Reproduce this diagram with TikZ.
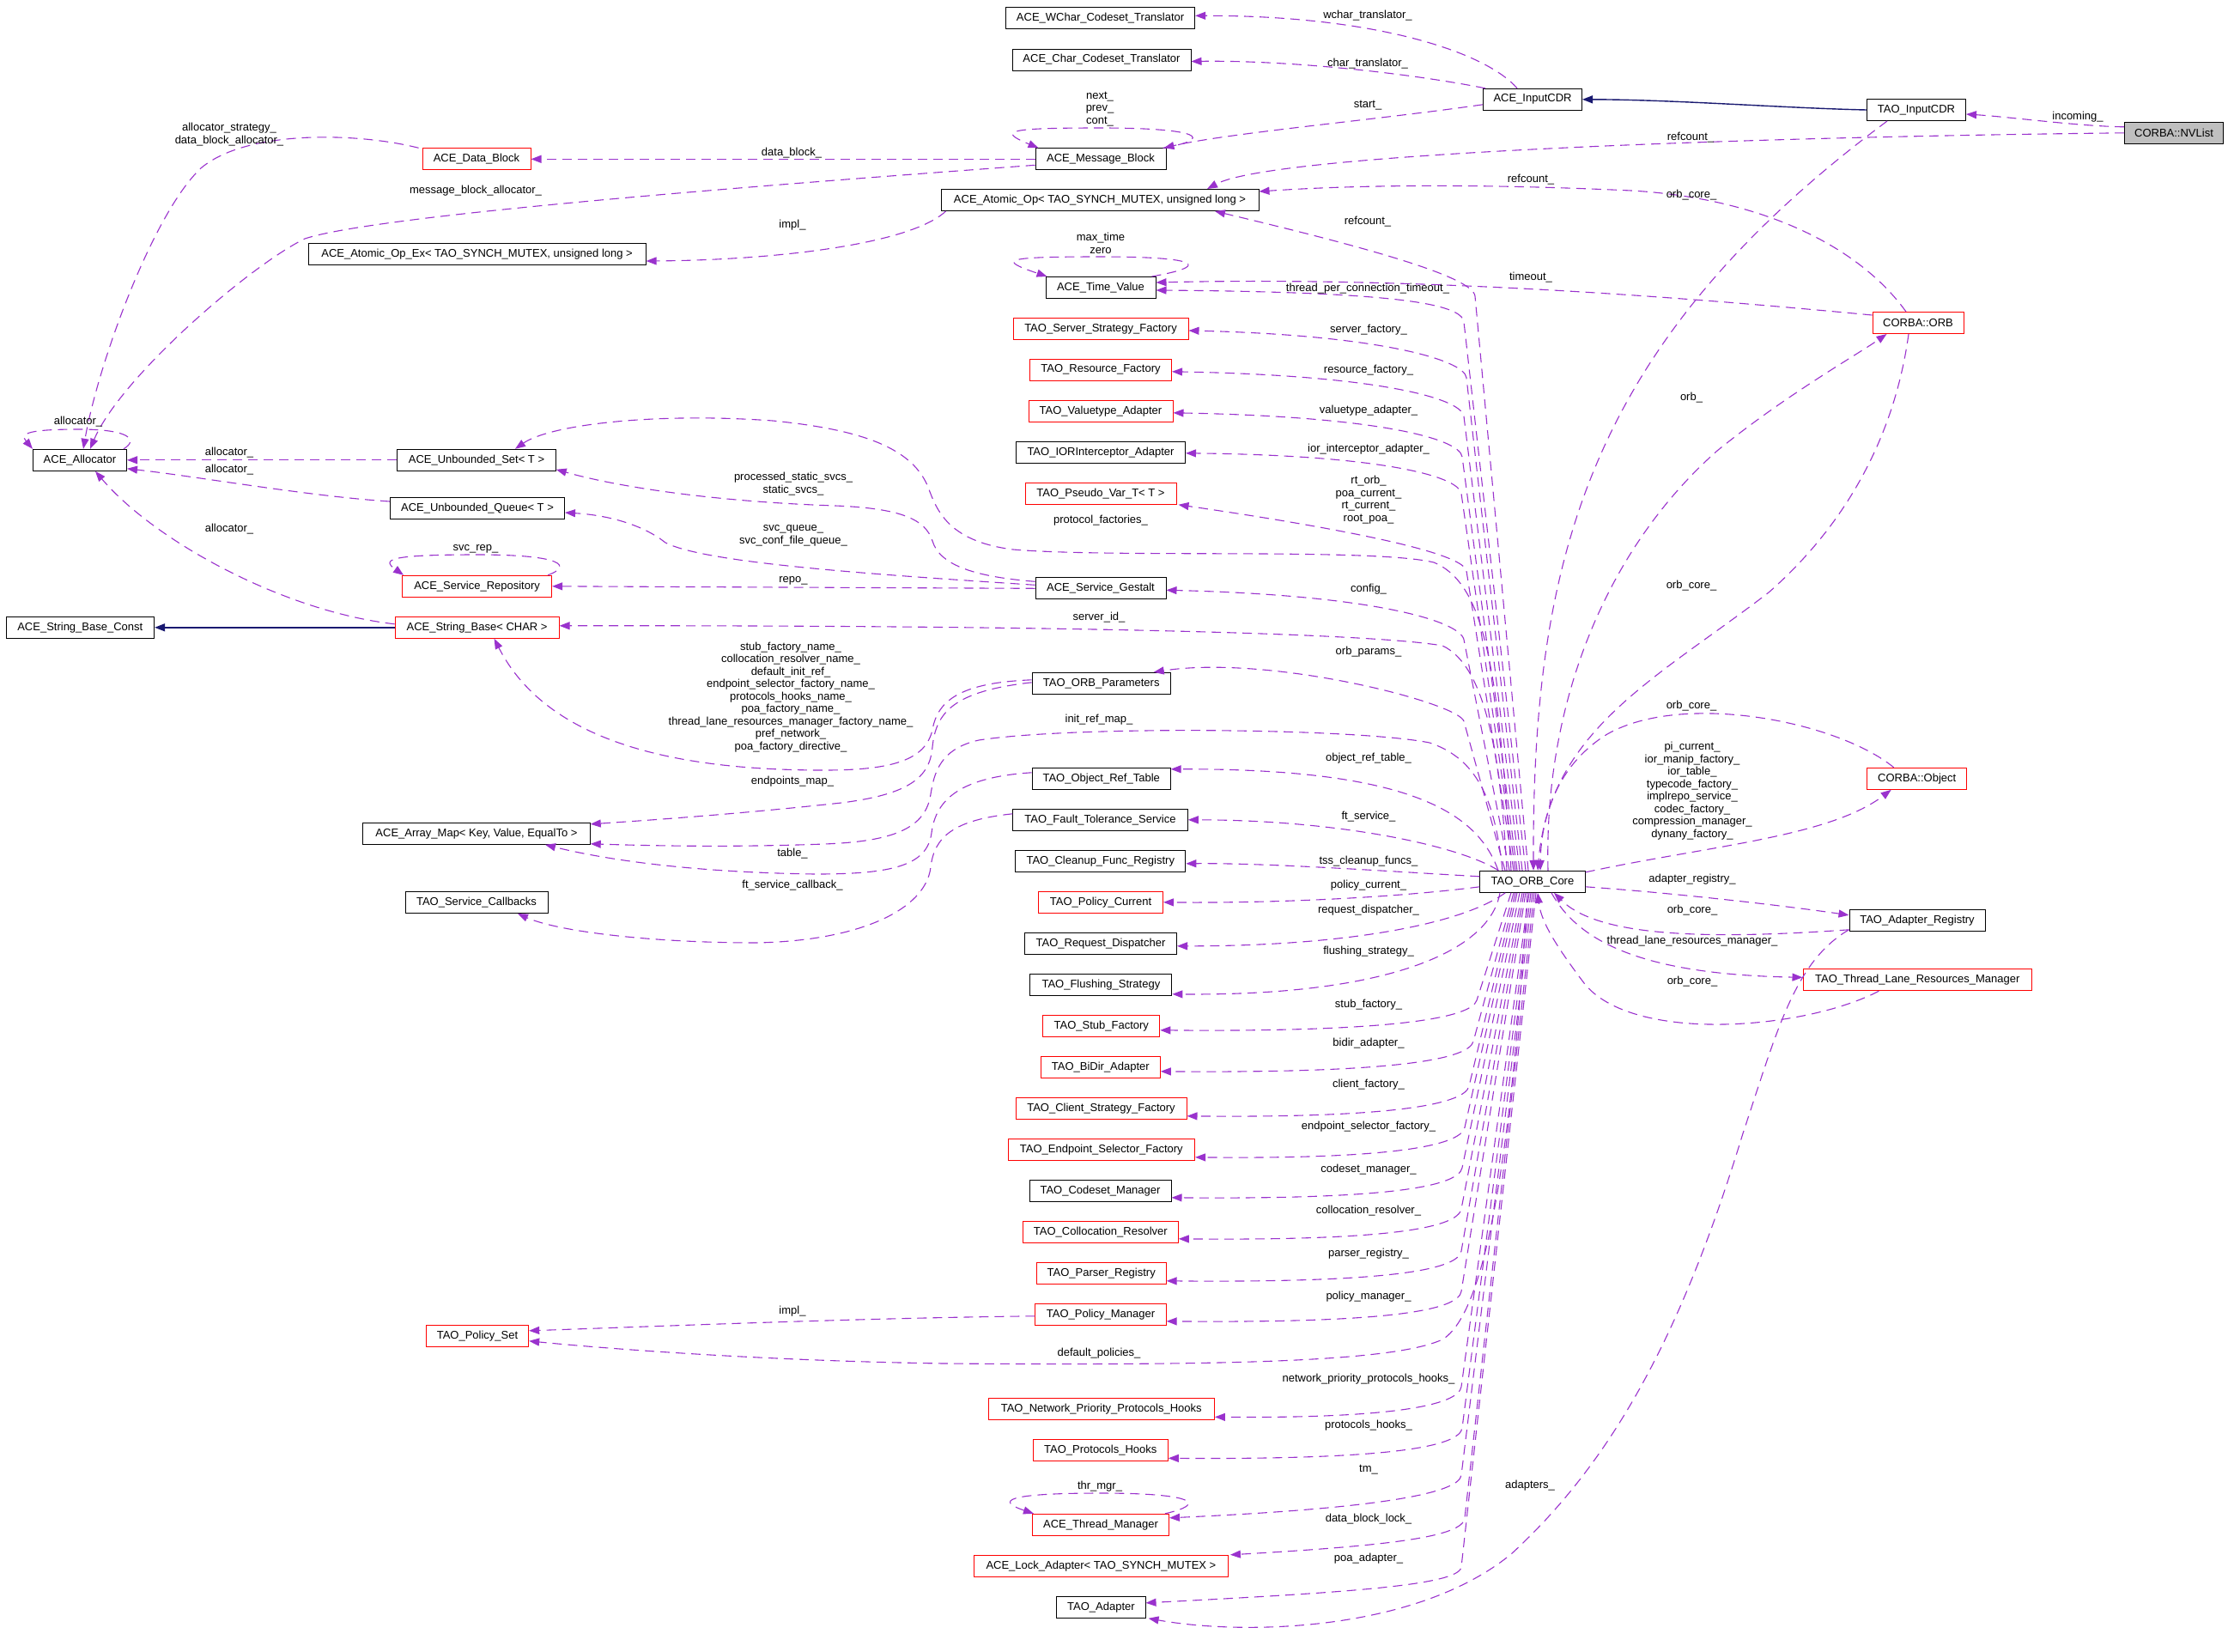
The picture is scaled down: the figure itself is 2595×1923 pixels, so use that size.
\documentclass[tikz,border=0pt]{standalone}
\usepackage{fontspec}
\setmainfont{Liberation Sans}
\usetikzlibrary{arrows.meta,calc}
\definecolor{depcol}{HTML}{9A32CD}
\definecolor{inhcol}{HTML}{191970}
\definecolor{boxred}{HTML}{FF0000}
\definecolor{nvfill}{HTML}{BFBFBF}
\newcommand\fs{\fontsize{13}{14.5}\selectfont}
\tikzset{
 cls/.style={draw=black, line width=1pt, minimum height=25pt, inner xsep=2pt, inner ysep=0pt, font=\fs, fill=white},
 rcls/.style={cls, draw=boxred},
 dep/.style={draw=depcol, line width=1.1pt, dash pattern=on 11pt off 7pt, -{Triangle[length=12pt,width=9pt]}},
 inh/.style={draw=inhcol, line width=1.4pt, -{Triangle[length=12pt,width=9pt]}},
 lbl/.style={font=\fs, inner sep=0pt, align=center},
}
\newcommand\coreup[4]{\path ($(core.north)+(#1,0)$) coordinate (cs);
 \draw[dep] (cs) -- (#2) .. controls ($(#2)!-22pt!(cs)$) and (#3) .. (#4);}
\newcommand\coredown[4]{\path ($(core.south)+(#1,0)$) coordinate (cs);
 \draw[dep] (cs) -- (#2) .. controls ($(#2)!-22pt!(cs)$) and (#3) .. (#4);}
\begin{document}
\begin{tikzpicture}[x=1pt,y=-1pt]
\useasboundingbox (0,0) rectangle (2595,1923);
% ---------------- nodes
\node[cls, minimum width=220pt] (wchar) at (1281.6,21.3) {ACE\_WChar\_Codeset\_Translator};
\node[cls, minimum width=208pt] (charct) at (1283,69.5) {ACE\_Char\_Codeset\_Translator};
\node[cls, minimum width=115pt] (inputcdr) at (1785,115.8) {ACE\_InputCDR};
\node[cls, minimum width=115pt] (taoinput) at (2232,128) {TAO\_InputCDR};
\node[cls, fill=nvfill, minimum width=115pt] (nvlist) at (2532,154.8) {CORBA::NVList};
\node[cls, minimum width=152pt] (msgblk) at (1282,185.3) {ACE\_Message\_Block};
\node[rcls, minimum width=126pt] (datablk) at (555,185.3) {ACE\_Data\_Block};
\node[cls, minimum width=370pt] (atomic) at (1281,233) {ACE\_Atomic\_Op< TAO\_SYNCH\_MUTEX, unsigned long >};
\node[cls, minimum width=393pt] (atomicex) at (555.6,296) {ACE\_Atomic\_Op\_Ex< TAO\_SYNCH\_MUTEX, unsigned long >};
\node[cls, minimum width=128pt] (timeval) at (1282,335) {ACE\_Time\_Value};
\node[rcls, minimum width=106pt] (orb) at (2234,376) {CORBA::ORB};
\node[rcls, minimum width=204pt] (serverf) at (1282,383) {TAO\_Server\_Strategy\_Factory};
\node[rcls, minimum width=165pt] (resf) at (1282,430.8) {TAO\_Resource\_Factory};
\node[rcls, minimum width=168pt] (valuet) at (1282,478.8) {TAO\_Valuetype\_Adapter};
\node[cls, minimum width=197pt] (ior) at (1282,526.8) {TAO\_IORInterceptor\_Adapter};
\node[rcls, minimum width=176pt] (pseudo) at (1282,574.8) {TAO\_Pseudo\_Var\_T< T >};
\node[cls, minimum width=109pt] (alloc) at (93,535.8) {ACE\_Allocator};
\node[cls, minimum width=184.5pt] (uset) at (555,535.8) {ACE\_Unbounded\_Set< T >};
\node[cls, minimum width=203pt] (uqueue) at (556,592) {ACE\_Unbounded\_Queue< T >};
\node[cls, minimum width=152pt] (gestalt) at (1282,685.3) {ACE\_Service\_Gestalt};
\node[rcls, minimum width=174pt] (svcrepo) at (555.6,682.8) {ACE\_Service\_Repository};
\node[cls, minimum width=172.6pt] (strconst) at (93.3,730.8) {ACE\_String\_Base\_Const};
\node[rcls, minimum width=191pt] (strbase) at (555.6,730.8) {ACE\_String\_Base< CHAR >};
\node[cls, minimum width=161pt] (orbparams) at (1282.7,795.8) {TAO\_ORB\_Parameters};
\node[cls, minimum width=264.5pt] (arraymap) at (555,970.8) {ACE\_Array\_Map< Key, Value, EqualTo >};
\node[cls, minimum width=161pt] (objref) at (1282.7,906.8) {TAO\_Object\_Ref\_Table};
\node[cls, minimum width=203.5pt] (ft) at (1281.5,954.8) {TAO\_Fault\_Tolerance\_Service};
\node[cls, minimum width=198pt] (cleanup) at (1281.8,1002.8) {TAO\_Cleanup\_Func\_Registry};
\node[rcls, minimum width=145pt] (polcur) at (1282,1050.8) {TAO\_Policy\_Current};
\node[cls, minimum width=177pt] (reqdisp) at (1282,1098.8) {TAO\_Request\_Dispatcher};
\node[cls, minimum width=165pt] (flush) at (1282.4,1146.8) {TAO\_Flushing\_Strategy};
\node[cls, minimum width=166pt] (svccb) at (555,1051) {TAO\_Service\_Callbacks};
\node[cls, minimum width=122.5pt] (core) at (1785,1026.8) {TAO\_ORB\_Core};
\node[rcls, minimum width=115.5pt] (corbaobj) at (2232.7,906.8) {CORBA::Object};
\node[cls, minimum width=158pt] (adreg) at (2233,1071.8) {TAO\_Adapter\_Registry};
\node[rcls, minimum width=266.6pt] (tlrm) at (2233.3,1141.3) {TAO\_Thread\_Lane\_Resources\_Manager};
\node[rcls, minimum width=136pt] (stub) at (1282.8,1194.8) {TAO\_Stub\_Factory};
\node[rcls, minimum width=139pt] (bidir) at (1281.8,1242.8) {TAO\_BiDir\_Adapter};
\node[rcls, minimum width=199pt] (clientf) at (1282.5,1290.8) {TAO\_Client\_Strategy\_Factory};
\node[rcls, minimum width=217.5pt] (endpt) at (1282.8,1338.8) {TAO\_Endpoint\_Selector\_Factory};
\node[cls, minimum width=165pt] (codeset) at (1281.5,1386.8) {TAO\_Codeset\_Manager};
\node[rcls, minimum width=181pt] (colloc) at (1281.8,1434.8) {TAO\_Collocation\_Resolver};
\node[rcls, minimum width=151pt] (parser) at (1282.7,1482.8) {TAO\_Parser\_Registry};
\node[rcls, minimum width=152.4pt] (polman) at (1282,1530.8) {TAO\_Policy\_Manager};
\node[rcls, minimum width=119.3pt] (polset) at (556,1555.8) {TAO\_Policy\_Set};
\node[rcls, minimum width=263.4pt] (nphooks) at (1282.7,1641.3) {TAO\_Network\_Priority\_Protocols\_Hooks};
\node[rcls, minimum width=157pt] (phooks) at (1281.8,1689.3) {TAO\_Protocols\_Hooks};
\node[rcls, minimum width=159pt] (thrmgr) at (1282,1775.8) {ACE\_Thread\_Manager};
\node[rcls, minimum width=296pt] (lockad) at (1282.4,1823.8) {ACE\_Lock\_Adapter< TAO\_SYNCH\_MUTEX >};
\node[cls, minimum width=103.3pt] (adapter) at (1282.4,1871.8) {TAO\_Adapter};
% ---------------- inheritance
\draw[inh] (taoinput.west) .. controls (2080,126) and (1950,116) .. (inputcdr.east);
\draw[inh] (strbase.west) -- (strconst.east);
% ---------------- top area
\draw[dep] ($(nvlist.west)+(0,-7)$) .. controls (2420,147) and (2340,136) .. ($(taoinput.east)+(0,5)$);
\draw[dep] (nvlist.west) .. controls (2000,160) and (1480,180) .. ($(atomic.north)+(125,0)$);
\draw[dep] ($(inputcdr.north)+(-18,0)$) .. controls (1730,60) and (1600,18) .. ($(wchar.east)+(0,-3)$);
\draw[dep] ($(inputcdr.north west)+(3,0)$) .. controls (1640,85) and (1500,70) .. ($(charct.east)+(0,2)$);
\draw[dep] ($(inputcdr.west)+(0,6)$) .. controls (1600,140) and (1430,155) .. ($(msgblk.north east)+(-3,0)$);
\draw[dep] ($(msgblk.north east)+(-4,0)$) .. controls (1415,162) and (1400,149) .. (1282,149) .. controls (1175,149) and (1160,152) .. ($(msgblk.north west)+(4,0)$);
\draw[dep] (msgblk.west) -- (datablk.east);
\draw[dep] ($(msgblk.west)+(0,7)$) .. controls (900,215) and (440,250) .. (355,278) .. controls (290,310) and (140,440) .. ($(alloc.north)+(12,0)$);
\draw[dep] ($(datablk.north west)+(-4,0)$) .. controls (420,155) and (290,150) .. (235,195) .. controls (180,245) and (115,420) .. ($(alloc.north)+(4,0)$);
\draw[dep] ($(atomic.south west)+(6,0)$) .. controls (1060,285) and (900,303) .. ($(atomicex.east)+(0,8)$);
\draw[dep] ($(alloc.north east)+(-4,0)$) .. controls (162,512) and (150,500) .. (93,500) .. controls (36,500) and (22,504) .. (alloc.north west);
\draw[dep] (uset.west) -- (alloc.east);
\draw[dep] ($(uqueue.west)+(0,-8)$) .. controls (360,578) and (230,555) .. ($(alloc.east)+(0,10)$);
\draw[dep] ($(strbase.west)+(0,-4)$) .. controls (330,712) and (180,630) .. ($(alloc.south)+(18,0)$);
\draw[dep] ($(svcrepo.north east)+(-5,0)$) .. controls (665,660) and (660,646) .. (555,646) .. controls (450,646) and (445,652) .. ($(svcrepo.north west)+(2,0)$);
\draw[dep] ($(timeval.north east)+(-5,0)$) .. controls (1410,310) and (1400,299) .. (1282,299) .. controls (1170,299) and (1160,302) .. ($(timeval.north west)+(2,0)$);
\draw[dep] ($(thrmgr.north east)+(-5,0)$) .. controls (1405,1752) and (1395,1739) .. (1282,1739) .. controls (1170,1739) and (1160,1748) .. ($(thrmgr.north west)+(2,0)$);
% gestalt
\draw[dep] ($(gestalt.west)+(0,-8)$) .. controls (1140,672) and (1095,660) .. (1086,630) .. controls (1078,605) and (1050,592) .. (973,589) .. controls (850,585) and (730,570) .. ($(uset.east)+(0,11)$);
\draw[dep] ($(gestalt.west)+(0,-4)$) .. controls (1000,668) and (820,655) .. (775,632) .. controls (750,612) and (710,600) .. ($(uqueue.east)+(0,5)$);
\draw[dep] (gestalt.west) -- (svcrepo.east);
% orb params, objref, ft
\draw[dep] ($(orbparams.west)+(0,-4)$) .. controls (1120,795) and (1092,815) .. (1086,850) .. controls (1078,885) and (1040,897) .. (960,897) .. controls (800,897) and (640,870) .. ($(strbase.south)+(20,0)$);
\draw[dep] ($(orbparams.west)+(0,-1)$) .. controls (1110,805) and (1090,830) .. (1086,870) .. controls (1083,905) and (1060,925) .. (980,935) .. controls (860,948) and (760,955) .. ($(arraymap.east)+(0,-11)$);
\draw[dep] ($(objref.west)+(0,-7)$) .. controls (1120,905) and (1090,930) .. (1085,970) .. controls (1080,1008) and (1040,1018) .. (950,1018) .. controls (800,1016) and (700,1000) .. ($(arraymap.south)+(80,0)$);
\draw[dep] ($(ft.west)+(0,-7)$) .. controls (1110,955) and (1088,975) .. (1084,1010) .. controls (1078,1060) and (1000,1096) .. (880,1098) .. controls (760,1098) and (650,1085) .. ($(svccb.south)+(48,0)$);
\draw[dep] ($(polman.west)+(0,2)$) .. controls (1000,1535) and (760,1545) .. ($(polset.east)+(0,-6)$);
% ---------------- right side
\draw[dep] ($(taoinput.south)+(-34,0)$) .. controls (1850,400) and (1785,650) .. ($(core.north)+(1,0)$);
\draw[dep] ($(orb.south)+(-11,0)$) .. controls (2205,520) and (2140,620) .. (2060,690) .. controls (1930,790) and (1805,850) .. ($(core.north)+(6,0)$);
\draw[dep] ($(core.north)+(18,0)$) .. controls (1798,820) and (1870,640) .. (2000,525) .. controls (2080,460) and (2160,415) .. ($(orb.south west)+(17,0)$);
\draw[dep] ($(orb.north)+(-14,0)$) .. controls (2160,280) and (2040,230) .. (1900,222) .. controls (1750,215) and (1600,214) .. ($(atomic.east)+(0,-10)$);
\draw[dep] ($(orb.west)+(0,-9)$) .. controls (1950,345) and (1650,322) .. ($(timeval.east)+(0,-6)$);
\draw[dep] ($(corbaobj.north)+(-27,0)$) .. controls (2140,840) and (1960,805) .. (1872,855) .. controls (1815,890) and (1795,950) .. ($(core.north)+(9,0)$);
\draw[dep] ($(core.north east)+(0,2)$) .. controls (1990,985) and (2130,975) .. ($(corbaobj.south)+(-30,0)$);
\draw[dep] ($(core.east)+(0,6)$) .. controls (1950,1040) and (2080,1055) .. ($(adreg.west)+(0,-6)$);
\draw[dep] ($(adreg.west)+(0,11)$) .. controls (1980,1095) and (1860,1090) .. ($(core.south)+(25,0)$);
\draw[dep] ($(core.south)+(22,0)$) .. controls (1840,1100) and (1920,1135) .. ($(tlrm.west)+(0,-3)$);
\draw[dep] ($(tlrm.south)+(-45,0)$) .. controls (2100,1200) and (1900,1215) .. (1845,1145) .. controls (1815,1105) and (1795,1075) .. ($(core.south)+(6,0)$);
\draw[dep] ($(adreg.south west)+(0,-2)$) .. controls (2090,1120) and (2070,1200) .. (2030,1320) .. controls (1960,1550) and (1880,1700) .. (1760,1810) .. controls (1650,1900) and (1450,1905) .. ($(adapter.south east)+(3,0)$);
% ---------------- core, upper column
\coreup{-5}{1718,345}{1600,290}{$(atomic.south)+(134,0)$}
\coreup{-8}{1705,375}{1620,340}{$(timeval.east)+(0,3)$}
\coreup{-12}{1708,440}{1600,390}{$(serverf.east)+(0,2)$}
\coreup{-15}{1705,485}{1600,437}{$(resf.east)+(0,2)$}
\coreup{-18}{1703,532}{1600,485}{$(valuet.east)+(0,2)$}
\coreup{-20}{1702,575}{1600,530}{$(ior.east)+(0,1)$}
\coreup{-22}{1708,665}{1560,615}{$(pseudo.south east)+(2,0)$}
\coreup{-27}{1705,745}{1600,693}{$(gestalt.east)+(0,2)$}
\coreup{-32}{1705,840}{1480,762}{$(orbparams.north east)+(-20,0)$}
\draw[dep] ($(core.north)+(-25,0)$) .. controls (1745,780) and (1730,680) .. (1670,655) .. controls (1600,638) and (1300,650) .. (1180,640) .. controls (1100,630) and (1090,590) .. (1080,565) .. controls (1060,520) and (1000,500) .. (900,490) .. controls (760,480) and (640,495) .. ($(uset.north)+(45,0)$);
\draw[dep] ($(core.north)+(-30,0)$) .. controls (1748,880) and (1730,775) .. (1680,752) .. controls (1600,738) and (1250,728) .. ($(strbase.east)+(0,-2)$);
\draw[dep] ($(core.north)+(-35,0)$) .. controls (1742,940) and (1725,885) .. (1665,865) .. controls (1580,848) and (1250,845) .. (1140,862) .. controls (1095,872) and (1088,900) .. (1084,925) .. controls (1078,965) and (1040,980) .. (960,983) .. controls (850,987) and (760,985) .. ($(arraymap.east)+(0,12)$);
\draw[dep] ($(core.north)+(-40,0)$) .. controls (1722,950) and (1650,895) .. ($(objref.east)+(0,-11)$);
\draw[dep] ($(core.north west)+(22,0)$) .. controls (1700,985) and (1560,955) .. (ft.east);
\draw[dep] ($(core.west)+(0,-6)$) .. controls (1620,1015) and (1480,1005) .. ($(cleanup.east)+(0,3)$);
\draw[dep] ($(core.west)+(0,6)$) .. controls (1620,1046) and (1480,1052) .. (polcur.east);
\draw[dep] ($(core.south west)+(30,0)$) .. controls (1700,1078) and (1560,1102) .. ($(reqdisp.east)+(0,3)$);
\draw[dep] ($(core.south)+(-38,0)$) .. controls (1735,1110) and (1610,1160) .. ($(flush.east)+(0,11)$);
% ---------------- core, lower column
\coredown{-25}{1720,1165}{1620,1202}{$(stub.east)+(0,5)$}
\coredown{-22}{1716,1213}{1620,1250}{$(bidir.east)+(0,5)$}
\coredown{-20}{1711,1265}{1620,1302}{$(clientf.east)+(0,9)$}
\coredown{-18}{1706,1313}{1620,1350}{$(endpt.east)+(0,9)$}
\coredown{-15}{1703,1360}{1620,1397}{$(codeset.east)+(0,8)$}
\coredown{-12}{1702,1408}{1620,1445}{$(colloc.east)+(0,8)$}
\coredown{-10}{1702,1457}{1620,1494}{$(parser.east)+(0,9)$}
\coredown{-8}{1702,1504}{1620,1541}{$(polman.east)+(0,8)$}
\draw[dep] ($(core.south)+(-6,0)$) .. controls (1760,1350) and (1730,1530) .. (1680,1560) .. controls (1620,1588) and (1400,1590) .. (1100,1588) .. controls (900,1585) and (720,1572) .. ($(polset.east)+(0,6)$);
\coredown{-4}{1702,1615}{1620,1652}{$(nphooks.east)+(0,9)$}
\coredown{-2}{1703,1663}{1620,1700}{$(phooks.east)+(0,9)$}
\coredown{0}{1702,1718}{1600,1757}{$(thrmgr.east)+(0,-8)$}
\coredown{2}{1706,1768}{1620,1800}{$(lockad.north east)+(2,0)$}
\coredown{4}{1702,1825}{1560,1855}{$(adapter.east)+(0,-5)$}
% ---------------- labels
\node[lbl] (l01) at (1593,18) {wchar\_translator\_};
\node[lbl] (l02) at (1593,74) {char\_translator\_};
\node[lbl] (l03) at (1593,123) {start\_};
\node[lbl] (l04) at (1281,127) {next\_\\prev\_\\cont\_};
\node[lbl] (l05) at (2420,136) {incoming\_};
\node[lbl] (l06) at (1969,160) {refcount\_};
\node[lbl] (l07) at (1783,209) {refcount\_};
\node[lbl] (l08) at (1970,227) {orb\_core\_};
\node[lbl] (l09) at (1593,258) {refcount\_};
\node[lbl] (l10) at (1282,283.5) {max\_time\\zero};
\node[lbl] (l11) at (1783,323) {timeout\_};
\node[lbl] (l12) at (1593,336) {thread\_per\_connection\_timeout\_};
\node[lbl] (l13) at (922,178) {data\_block\_};
\node[lbl] (l14) at (267,156.5) {allocator\_strategy\_\\data\_block\_allocator\_};
\node[lbl] (l15) at (554,222) {message\_block\_allocator\_};
\node[lbl] (l16) at (923,262) {impl\_};
\node[lbl] (l17) at (91,491) {allocator\_};
\node[lbl] (l18) at (267,527) {allocator\_};
\node[lbl] (l19) at (267,547) {allocator\_};
\node[lbl] (l20) at (267,616) {allocator\_};
\node[lbl] (l21) at (554,639) {svc\_rep\_};
\node[lbl] (l22) at (924,563.5) {processed\_static\_svcs\_\\static\_svcs\_};
\node[lbl] (l23) at (924,624) {svc\_queue\_\\svc\_conf\_file\_queue\_};
\node[lbl] (l24) at (924,676) {repo\_};
\node[lbl] (l25) at (1594,384) {server\_factory\_};
\node[lbl] (l26) at (1594,431) {resource\_factory\_};
\node[lbl] (l27) at (1594,478) {valuetype\_adapter\_};
\node[lbl] (l28) at (1594,523) {ior\_interceptor\_adapter\_};
\node[lbl] (l29) at (1594,582) {rt\_orb\_\\poa\_current\_\\rt\_current\_\\root\_poa\_};
\node[lbl] (l30) at (1282,606) {protocol\_factories\_};
\node[lbl] (l31) at (1594,686) {config\_};
\node[lbl] (l32) at (1280,719) {server\_id\_};
\node[lbl] (l33) at (1594,759) {orb\_params\_};
\node[lbl] (l34) at (921,812) {stub\_factory\_name\_\\collocation\_resolver\_name\_\\default\_init\_ref\_\\endpoint\_selector\_factory\_name\_\\protocols\_hooks\_name\_\\poa\_factory\_name\_\\thread\_lane\_resources\_manager\_factory\_name\_\\pref\_network\_\\poa\_factory\_directive\_};
\node[lbl] (l35) at (1280,838) {init\_ref\_map\_};
\node[lbl] (l36) at (923,910) {endpoints\_map\_};
\node[lbl] (l37) at (1594,883) {object\_ref\_table\_};
\node[lbl] (l38) at (1594,951) {ft\_service\_};
\node[lbl] (l39) at (923,994) {table\_};
\node[lbl] (l40) at (1594,1003) {tss\_cleanup\_funcs\_};
\node[lbl] (l41) at (923,1031) {ft\_service\_callback\_};
\node[lbl] (l42) at (1594,1031) {policy\_current\_};
\node[lbl] (l43) at (1594,1060) {request\_dispatcher\_};
\node[lbl] (l44) at (1594,1108) {flushing\_strategy\_};
\node[lbl] (l45) at (1594,1170) {stub\_factory\_};
\node[lbl] (l46) at (1594,1215) {bidir\_adapter\_};
\node[lbl] (l47) at (1594,1263) {client\_factory\_};
\node[lbl] (l48) at (1594,1312) {endpoint\_selector\_factory\_};
\node[lbl] (l49) at (1594,1362) {codeset\_manager\_};
\node[lbl] (l50) at (1594,1410) {collocation\_resolver\_};
\node[lbl] (l51) at (1594,1460) {parser\_registry\_};
\node[lbl] (l52) at (1594,1510) {policy\_manager\_};
\node[lbl] (l53) at (923,1527) {impl\_};
\node[lbl] (l54) at (1280,1576) {default\_policies\_};
\node[lbl] (l55) at (1594,1606) {network\_priority\_protocols\_hooks\_};
\node[lbl] (l56) at (1594,1660) {protocols\_hooks\_};
\node[lbl] (l57) at (1594,1712) {tm\_};
\node[lbl] (l58) at (1281,1731) {thr\_mgr\_};
\node[lbl] (l59) at (1594,1769) {data\_block\_lock\_};
\node[lbl] (l60) at (1594,1815) {poa\_adapter\_};
\node[lbl] (l61) at (1782,1730) {adapters\_};
\node[lbl] (l62) at (1970,463) {orb\_};
\node[lbl] (l63) at (1970,682) {orb\_core\_};
\node[lbl] (l64) at (1970,822) {orb\_core\_};
\node[lbl] (l65) at (1971,921) {pi\_current\_\\ior\_manip\_factory\_\\ior\_table\_\\typecode\_factory\_\\implrepo\_service\_\\codec\_factory\_\\compression\_manager\_\\dynany\_factory\_};
\node[lbl] (l66) at (1971,1024) {adapter\_registry\_};
\node[lbl] (l67) at (1971,1060) {orb\_core\_};
\node[lbl] (l68) at (1971,1096) {thread\_lane\_resources\_manager\_};
\node[lbl] (l69) at (1971,1143) {orb\_core\_};
\end{tikzpicture}
\end{document}
